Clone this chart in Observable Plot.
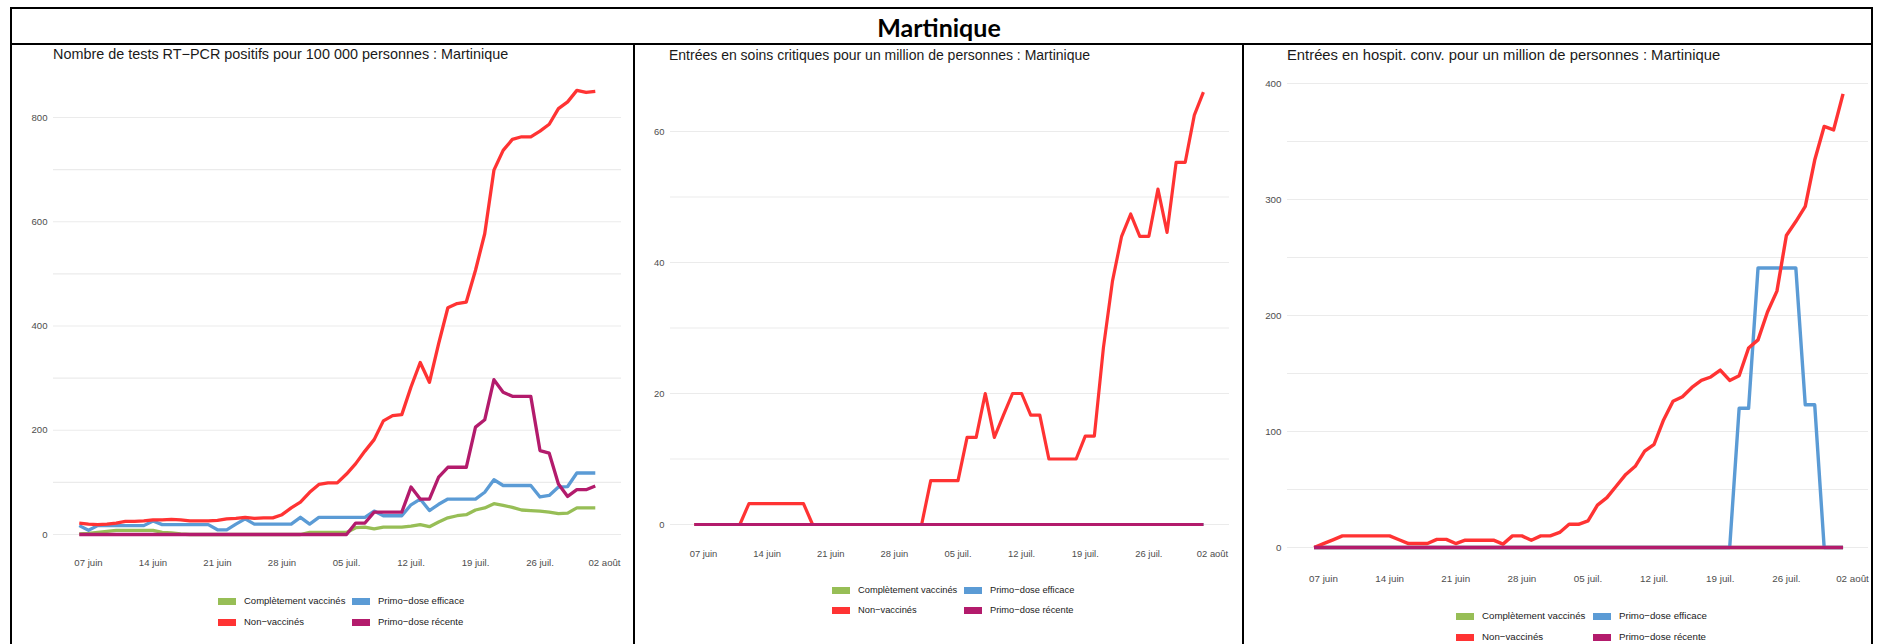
<!DOCTYPE html>
<html>
<head>
<meta charset="utf-8">
<script src="https://cdn.jsdelivr.net/npm/d3@7"></script>
<script src="https://cdn.jsdelivr.net/npm/@observablehq/plot@0.6"></script>
<style>
html, body { margin: 0; padding: 0; background: #fff; }
#root { position: relative; width: 1878px; height: 644px; overflow: hidden; font-family: "Liberation Sans", Arial, sans-serif; }
.rule { position: absolute; background: #000; }
.hdr { position: absolute; left: 0; width: 1878px; top: 9px; height: 35px; display: flex; align-items: center; justify-content: center; font-family: Lato, sans-serif; font-weight: 700; font-size: 25px; color: #000; }
.title { position: absolute; line-height: 16px; color: #1a1a1a; white-space: nowrap; }
.plot { position: absolute; }
.leg { position: absolute; display: flex; align-items: center; line-height: 12px; color: #1a1a1a; white-space: nowrap; }
.sw { width: 18px; height: 7px; margin-right: 8px; }
</style>
</head>
<body>
<div id="root"></div>
<script>
// ---------- data ----------
const startDate = "2021-06-06"; // first daily value; 57 consecutive days to 2021-08-01
const seriesNames = ["Complètement vaccinés", "Primo−dose efficace", "Non−vaccinés", "Primo−dose récente"];
const seriesColors = ["#97BE56", "#5B9BD5", "#FF3333", "#B31B6C"];

const tickDates = ["2021-06-07", "2021-06-14", "2021-06-21", "2021-06-28", "2021-07-05", "2021-07-12", "2021-07-19", "2021-07-26", "2021-08-02"];
const tickLabels = ["07 juin", "14 juin", "21 juin", "28 juin", "05 juil.", "12 juil.", "19 juil.", "26 juil.", "02 août"];

// Panel 1 : tests RT-PCR positifs pour 100 000
const tests_complet = [1, 2, 4, 6, 8, 8, 8, 8, 8, 4, 3, 1, 0, 0, 0, 0, 0, 0, 0, 0, 0, 0, 0, 0, 0, 4, 4, 4, 4, 4, 13, 14, 11, 14, 14, 14, 16, 19, 15, 24, 32, 36, 38, 47, 51, 59, 56, 52, 47, 46, 45, 43, 40, 41, 51, 51, 51];
const tests_efficace = [17, 8, 17, 17, 17, 17, 17, 17, 26, 19, 19, 19, 19, 19, 19, 9, 9, 20, 30, 20, 20, 20, 20, 20, 33, 20, 33, 33, 33, 33, 33, 33, 45, 36, 36, 36, 57, 68, 46, 58, 68, 68, 68, 68, 81, 105, 94, 94, 94, 94, 72, 75, 91, 92, 118, 118, 118];
const tests_nonvax = [22, 20, 19, 20, 22, 25, 25, 26, 28, 28, 29, 28, 26, 26, 26, 27, 30, 31, 33, 31, 32, 32, 38, 51, 62, 81, 96, 99, 99, 116, 136, 160, 182, 218, 228, 230, 283, 330, 292, 366, 435, 443, 446, 507, 577, 699, 737, 758, 763, 763, 774, 787, 817, 830, 852, 848, 850];
const tests_recente = [0, 0, 0, 0, 0, 0, 0, 0, 0, 0, 0, 0, 0, 0, 0, 0, 0, 0, 0, 0, 0, 0, 0, 0, 0, 0, 0, 0, 0, 0, 22, 22, 43, 43, 43, 43, 91, 68, 68, 110, 129, 129, 129, 206, 220, 297, 273, 265, 265, 265, 161, 156, 97, 73, 86, 86, 93];

// Panel 2 : soins critiques pour un million
const sc_complet = [0, 0, 0, 0, 0, 0, 0, 0, 0, 0, 0, 0, 0, 0, 0, 0, 0, 0, 0, 0, 0, 0, 0, 0, 0, 0, 0, 0, 0, 0, 0, 0, 0, 0, 0, 0, 0, 0, 0, 0, 0, 0, 0, 0, 0, 0, 0, 0, 0, 0, 0, 0, 0, 0, 0, 0, 0];
const sc_efficace = [0, 0, 0, 0, 0, 0, 0, 0, 0, 0, 0, 0, 0, 0, 0, 0, 0, 0, 0, 0, 0, 0, 0, 0, 0, 0, 0, 0, 0, 0, 0, 0, 0, 0, 0, 0, 0, 0, 0, 0, 0, 0, 0, 0, 0, 0, 0, 0, 0, 0, 0, 0, 0, 0, 0, 0, 0];
const sc_nonvax = [0, 0, 0, 0, 0, 0, 3.2, 3.2, 3.2, 3.2, 3.2, 3.2, 3.2, 0, 0, 0, 0, 0, 0, 0, 0, 0, 0, 0, 0, 0, 6.7, 6.7, 6.7, 6.7, 13.3, 13.3, 20, 13.3, 16.7, 20, 20, 16.7, 16.7, 10, 10, 10, 10, 13.5, 13.5, 27, 37.2, 44, 47.4, 44, 44, 51.2, 44.6, 55.3, 55.3, 62.5, 66];
const sc_recente = [0, 0, 0, 0, 0, 0, 0, 0, 0, 0, 0, 0, 0, 0, 0, 0, 0, 0, 0, 0, 0, 0, 0, 0, 0, 0, 0, 0, 0, 0, 0, 0, 0, 0, 0, 0, 0, 0, 0, 0, 0, 0, 0, 0, 0, 0, 0, 0, 0, 0, 0, 0, 0, 0, 0, 0, 0];

// Panel 3 : hospitalisation conventionnelle pour un million
const hc_complet = [0, 0, 0, 0, 0, 0, 0, 0, 0, 0, 0, 0, 0, 0, 0, 0, 0, 0, 0, 0, 0, 0, 0, 0, 0, 0, 0, 0, 0, 0, 0, 0, 0, 0, 0, 0, 0, 0, 0, 0, 0, 0, 0, 0, 0, 0, 0, 0, 0, 0, 0, 0, 0, 0, 0, 0, 0];
const hc_efficace = [0, 0, 0, 0, 0, 0, 0, 0, 0, 0, 0, 0, 0, 0, 0, 0, 0, 0, 0, 0, 0, 0, 0, 0, 0, 0, 0, 0, 0, 0, 0, 0, 0, 0, 0, 0, 0, 0, 0, 0, 0, 0, 0, 0, 0, 120, 120, 241, 241, 241, 241, 241, 123, 123, 0, 0, 0];
const hc_nonvax = [0, 3.3, 6.6, 10, 10, 10, 10, 10, 10, 6.7, 3.4, 3.4, 3.4, 7, 7, 3.4, 6.3, 6.3, 6.3, 6.3, 2.9, 10, 10, 6.3, 10, 10, 13, 20, 20, 23, 36.5, 43, 53, 63, 70, 83, 89, 110, 126, 130, 138, 144, 147, 153, 144, 148, 172, 179, 203, 221, 269, 281, 294, 334, 363, 360, 391];
const hc_recente = [0, 0, 0, 0, 0, 0, 0, 0, 0, 0, 0, 0, 0, 0, 0, 0, 0, 0, 0, 0, 0, 0, 0, 0, 0, 0, 0, 0, 0, 0, 0, 0, 0, 0, 0, 0, 0, 0, 0, 0, 0, 0, 0, 0, 0, 0, 0, 0, 0, 0, 0, 0, 0, 0, 0, 0, 0];

const panelTitles = [
  "Nombre de tests RT−PCR positifs pour 100 000 personnes : Martinique",
  "Entrées en soins critiques pour un million de personnes : Martinique",
  "Entrées en hospit. conv. pour un million de personnes : Martinique"
];
const gridTicks1 = [0, 100, 200, 300, 400, 500, 600, 700, 800];
const labelTicks1 = [0, 200, 400, 600, 800];
const gridTicks2 = [0, 10, 20, 30, 40, 50, 60];
const labelTicks2 = [0, 20, 40, 60];
const gridTicks3 = [0, 50, 100, 150, 200, 250, 300, 350, 400];
const labelTicks3 = [0, 100, 200, 300, 400];

// ---------- layout (pixels) ----------
const root = document.getElementById("root");
function rule(l, t, w, h) {
  const d = document.createElement("div");
  d.className = "rule";
  Object.assign(d.style, {left: l + "px", top: t + "px", width: w + "px", height: h + "px"});
  root.appendChild(d);
}
rule(10, 7, 1863, 2);      // top
rule(10, 43, 1863, 2);     // header bottom
rule(10, 7, 2, 637);       // left
rule(1871, 7, 2, 637);     // right
rule(633, 43, 2, 601);     // divider 1
rule(1242, 43, 2, 601);    // divider 2

const hdr = document.createElement("div");
hdr.className = "hdr";
hdr.textContent = "Martinique";
root.appendChild(hdr);

const parseDate = d3.utcParse("%Y-%m-%d");
const day0 = parseDate(startDate);
const tickDateObjs = tickDates.map(parseDate);
const labelMap = new Map(tickDateObjs.map((d, i) => [+d, tickLabels[i]]));

const panels = [
  {title: panelTitles[0], data: [tests_complet, tests_efficace, tests_nonvax, tests_recente], grid: gridTicks1, labels: labelTicks1,
   cellL: 12, cellR: 633, gx0: 53, gx1: 621, xFirstTick: 88, xLastTick: 604, y0: 534, yRef: 117, yRefVal: 800, yMax: 870, tickPad: 25,
   titleX: 53, titleY: 54, titleFs: 14.4, tickFs: 9.6, legFs: 9.5, sw: 3.3, legX1: 218, legX2: 352, legY1: 601, legY2: 622},
  {title: panelTitles[1], data: [sc_complet, sc_efficace, sc_nonvax, sc_recente], grid: gridTicks2, labels: labelTicks2,
   cellL: 635, cellR: 1242, gx0: 670, gx1: 1229, xFirstTick: 703, xLastTick: 1212, y0: 524, yRef: 131, yRefVal: 60, yMax: 70, tickPad: 26,
   titleX: 669, titleY: 55, titleFs: 14, tickFs: 9.4, legFs: 9.3, sw: 3.2, legX1: 832, legX2: 964, legY1: 590, legY2: 610},
  {title: panelTitles[2], data: [hc_complet, hc_efficace, hc_nonvax, hc_recente], grid: gridTicks3, labels: labelTicks3,
   cellL: 1244, cellR: 1871, gx0: 1287, gx1: 1868, xFirstTick: 1323, xLastTick: 1852, y0: 547, yRef: 83, yRefVal: 400, yMax: 400, tickPad: 28,
   titleX: 1287, titleY: 55, titleFs: 14.8, tickFs: 9.8, legFs: 9.7, sw: 3.4, legX1: 1456, legX2: 1593, legY1: 616, legY2: 637}
];

const svgTop = 64;

panels.forEach(p => {
  // title
  const t = document.createElement("div");
  t.className = "title";
  t.textContent = p.title;
  t.style.fontSize = p.titleFs + "px";
  t.style.left = p.titleX + "px";
  t.style.top = (p.titleY - 8) + "px";
  root.appendChild(t);

  const firstTick = tickDateObjs[0], lastTick = tickDateObjs[tickDateObjs.length - 1];
  const pxPerMs = (p.xLastTick - p.xFirstTick) / (lastTick - firstTick);
  const xDomain = [new Date(+firstTick + (p.gx0 - p.xFirstTick) / pxPerMs), new Date(+firstTick + (p.gx1 - p.xFirstTick) / pxPerMs)];
  const ppu = (p.y0 - p.yRef) / p.yRefVal;
  const width = p.cellR - p.cellL;
  const marginLeft = p.gx0 - p.cellL;
  const marginRight = p.cellR - p.gx1;
  const marginTop = (p.y0 - p.yMax * ppu) - svgTop;
  const marginBottom = 45;
  const height = (p.y0 - svgTop) + marginBottom;

  const lineMarks = p.data.map((vals, si) => {
    const rows = vals.map((v, i) => ({date: d3.utcDay.offset(day0, i), value: v}));
    return Plot.line(rows, {x: "date", y: "value", stroke: seriesColors[si], strokeWidth: p.sw, strokeLinejoin: "round", strokeLinecap: "butt"});
  });

  const chart = Plot.plot({
    width, height, marginLeft, marginRight, marginTop, marginBottom,
    style: {fontFamily: "'Liberation Sans', Arial, sans-serif", fontSize: p.tickFs + "px", color: "#4d4d4d", background: "transparent", overflow: "visible"},
    x: {type: "utc", domain: xDomain},
    y: {domain: [0, p.yMax]},
    marks: [
      Plot.gridY(p.grid, {stroke: "#ebebeb", strokeOpacity: 1, strokeWidth: 1.2}),
      Plot.axisY(p.labels, {tickSize: 0, tickPadding: 6, label: null, fontSize: p.tickFs}),
      Plot.axisX(tickDateObjs, {tickSize: 0, tickPadding: p.tickPad, label: null, fontSize: p.tickFs, tickFormat: d => labelMap.get(+d)}),
      ...lineMarks
    ]
  });
  chart.classList.add("plot");
  chart.style.left = p.cellL + "px";
  chart.style.top = svgTop + "px";
  root.appendChild(chart);

  // legend
  const items = [[0, p.legX1, p.legY1], [1, p.legX2, p.legY1], [2, p.legX1, p.legY2], [3, p.legX2, p.legY2]];
  items.forEach(([si, x, y]) => {
    const it = document.createElement("div");
    it.className = "leg";
    it.style.fontSize = p.legFs + "px";
    it.style.left = x + "px";
    it.style.top = (y - 6) + "px";
    const sw = document.createElement("span");
    sw.className = "sw";
    sw.style.background = seriesColors[si];
    const tx = document.createElement("span");
    tx.textContent = seriesNames[si];
    it.appendChild(sw);
    it.appendChild(tx);
    root.appendChild(it);
  });
});
</script>
</body>
</html>
